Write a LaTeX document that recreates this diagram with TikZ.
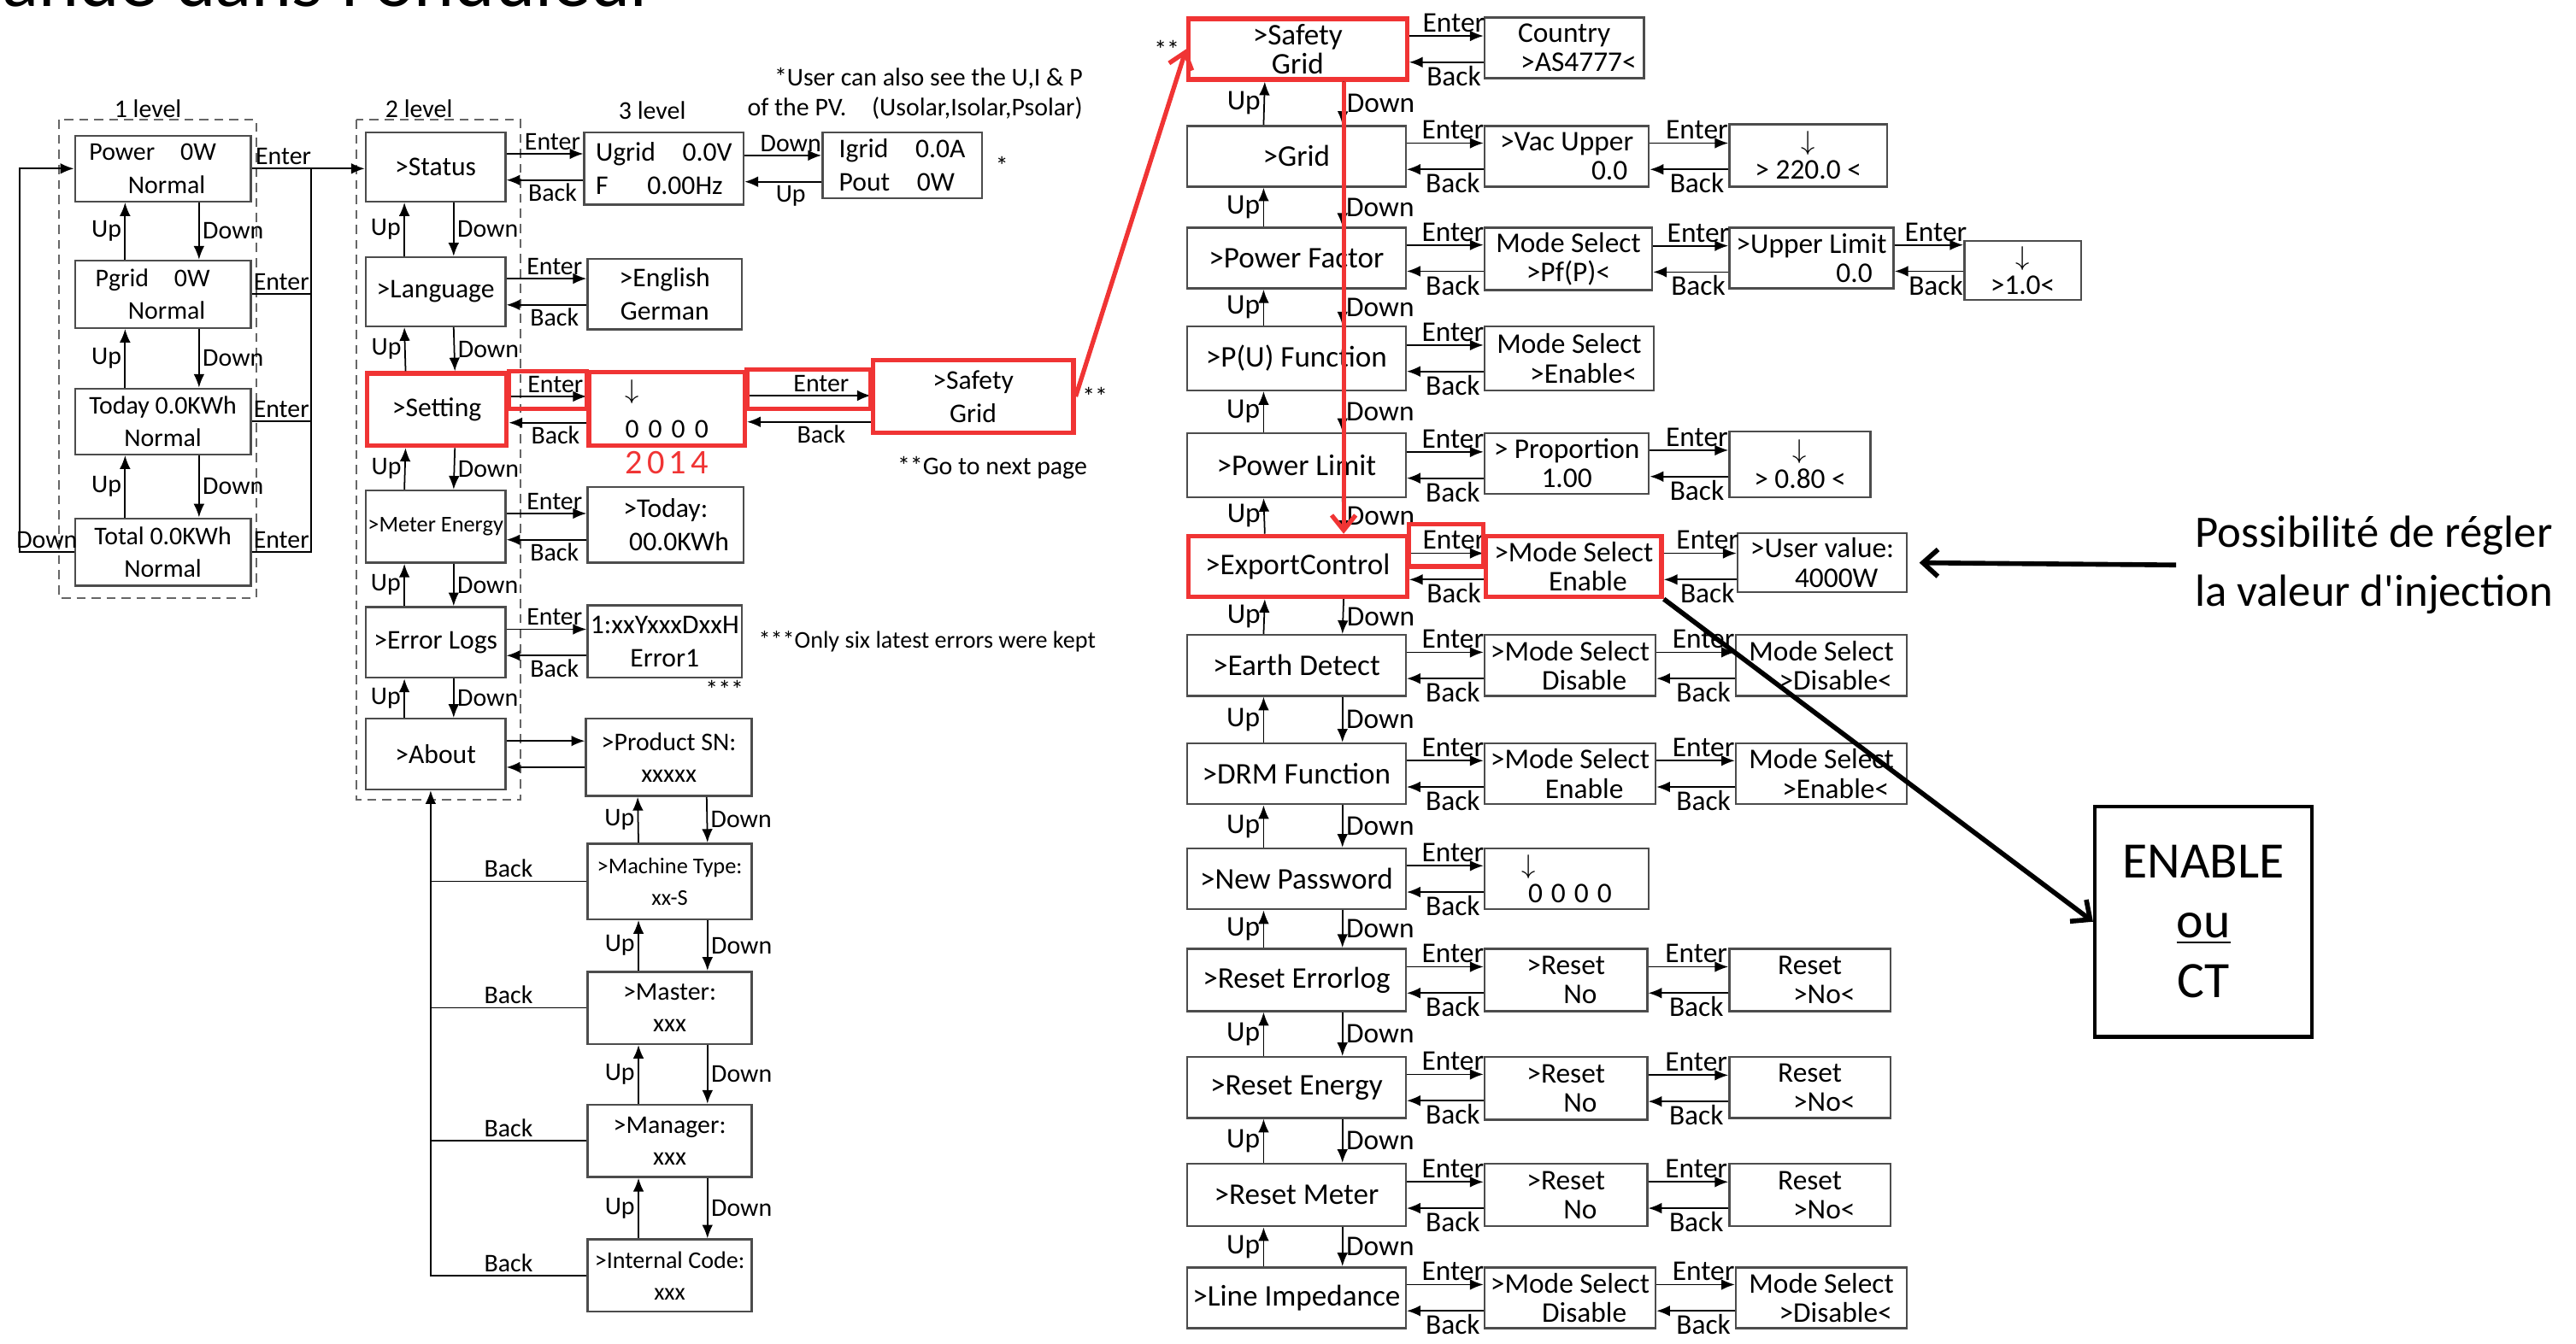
\documentclass[tikz,border=0pt]{standalone}
\usepackage{fontspec}
\setmainfont{Carlito}
\newfontfamily\titlefont{Lato}
\usetikzlibrary{calc,positioning,arrows.meta}
\definecolor{mkred}{RGB}{240,52,52}
\newcommand{\pxu}{0.019222cm}
\tikzset{
    >={Latex[length=4.5pt,width=3.6pt]}, % filled heads, as on the inverter screen
    }
% Enter / Back pair between a box and the box on its right
\newcommand{\enterback}[4]{%
  \path ($(#1.east)+(0,-8)$) coordinate (eb1) ($(#1.east)+(0,8)$) coordinate (eb2);
  \draw[link] (eb1) -- node[lbl,above,pos=0.6] {#3} (eb1 -| #2.west);
  \draw[link] (eb2 -| #2.west) -- node[lbl,below,pos=0.4] {#4} (eb2);
}
% Up / Down pair between a box and the box below it
\newcommand{\updown}[4]{%
  \draw[link] ($(#2.north)+(#3,0)$) -- node[lbl,left] {Up} ($(#1.south)+(#3,0)$);
  \draw[link] ($(#1.south)+(#4,0)$) -- node[lbl,right] {Down} ($(#2.north)+(#4,0)$);
}

\begin{document}
\begin{tikzpicture}[x=0.019222cm, y=-0.019222cm,
scr/.style={draw=black!70, line width=0.7pt, anchor=north west, align=center, inner sep=0.5pt, font=\fontsize{9}{11}\selectfont},
sz/.style 2 args={minimum width=#1*\pxu, minimum height=#2*\pxu},
rcol/.style={font=\fontsize{10}{9.8}\selectfont},
subcol/.style={font=\fontsize{9.5}{9.8}\selectfont},
mcol/.style={font=\fontsize{8.5}{10.5}\selectfont},
redbox/.style={draw=mkred, line width=1.5pt},
redline/.style={draw=mkred, line width=1.5pt, -{Straight Barb[length=5pt,width=8pt]}},
wire/.style={line width=0.5pt},
link/.style={wire, ->},
lbl/.style={inner sep=1pt, font=\fontsize{8.5}{10}\selectfont},
lvframe/.style={draw=black!60, line width=0.6pt, dash pattern=on 3pt off 2pt},
infotext/.style={align=center, font=\fontsize{15}{19.5}\selectfont},
infoarrow/.style={line width=1.6pt, -{Straight Barb[length=5pt,width=9pt]}},
]
\useasboundingbox (0,0) rectangle (1568,818);

% title, cut by the page edge
\node[font=\titlefont\fontsize{24}{24}\selectfont, anchor=base east, inner sep=0pt] (ttl) at (400,4) {commande dans l\textquotesingle onduleur};

% level 1
\draw[lvframe] (36,73) rectangle (156,364);
\node[lbl] (lv1) at (90,66) {1 level};
\node[scr, sz={107}{40}, font=\fontsize{8.5}{10.9}\selectfont] (pow) at (45,82) {Power\quad 0W\hspace*{0.8em}\\\hspace*{0.3em}Normal};
\node[scr, sz={107}{41}, font=\fontsize{8.5}{10.9}\selectfont] (pgr) at (45,158) {Pgrid\quad 0W\hspace*{0.8em}\\\hspace*{0.3em}Normal};
\node[scr, sz={107}{40}, font=\fontsize{8.5}{10.9}\selectfont] (tod) at (45,236) {Today 0.0KWh\\Normal};
\node[scr, sz={107}{41}, font=\fontsize{8.5}{10.9}\selectfont] (tot) at (45,315) {Total 0.0KWh\\Normal};

% level 2
\draw[lvframe] (217,73) rectangle (317,487);
\node[lbl] (lv2) at (255,66) {2 level};
\node[scr, sz={85}{42}] (sta) at (222,80) {>Status};
\node[scr, sz={85}{42}] (lan) at (222,156) {>Language};
\node[scr, sz={85}{44}, redbox] (set) at (222,226) {>Setting};
\node[scr, sz={85}{44}, font=\fontsize{7.5}{9}\selectfont] (met) at (222,298) {>Meter Energy};
\node[scr, sz={85}{43}] (err) at (222,369) {>Error Logs};
\node[scr, sz={85}{43}] (abo) at (222,437) {>About};

% level 3
\node[lbl] (lv3) at (397,67) {3 level};
\node[scr, sz={97}{44}, align=left] (ugr) at (355,80) {Ugrid\quad 0.0V\\F\quad\ \ 0.00Hz};
\node[scr, sz={97}{40}, align=left] (igr) at (500,80) {Igrid\quad 0.0A\\Pout\quad 0W};
\node[scr, sz={94}{43}] (eng) at (357,157) {>English\\German};
\node[scr, sz={95}{45}, redbox, align=left] (pwd) at (357,225) {$\downarrow$\\[2pt]0\hspace{0.35em}0\hspace{0.35em}0\hspace{0.35em}0};
\node[scr, sz={122}{44}, redbox] (sg1) at (530,218) {>Safety\\Grid};
\node[scr, sz={95}{46}] (tdy) at (357,296) {>Today:\\\quad 00.0KWh};
\node[scr, sz={94}{44}] (elg) at (357,368) {1:xxYxxxDxxH\\Error1};
\node[scr, sz={101}{47}, mcol] (psn) at (356,437) {>Product SN:\\xxxxx};
\node[scr, sz={100}{46}, font=\fontsize{7.5}{10.5}\selectfont] (mty) at (357,513) {>Machine Type:\\xx-S};
\node[scr, sz={100}{44}, mcol] (mas) at (357,591) {>Master:\\xxx};
\node[scr, sz={100}{44}, mcol] (man) at (357,672) {>Manager:\\xxx};
\node[scr, sz={100}{44}, font=\fontsize{8}{10.5}\selectfont] (inc) at (357,754) {>Internal Code:\\xxx};

% notes of the left page
\node[lbl, align=right] (pvnote) at (557,57) {*User can also see the U,I \& P\\of the PV.\quad (Usolar,Isolar,Psolar)};
\node[lbl] (ast1) [right=3pt of igr] {*};
\node[lbl] (ast2) [right=1pt of sg1] {**};
\node[lbl] (gonext) at (604,285) {**Go to next page};
\node[text=mkred, inner sep=1pt, font=\fontsize{11.5}{11.5}\selectfont] (yr) [below=0pt of pwd] {2\hspace{1.5pt}0\hspace{1.5pt}1\hspace{1.5pt}4};
\node[lbl] (ast4) at (441,420) {***};
\node[lbl, font=\fontsize{8}{10}\selectfont] (errnote) [right=4pt of elg] {***Only six latest errors were kept};

% right page, main column
\node[scr, sz={133}{37}, rcol, redbox] (sg2) at (722,10) {>Safety\\Grid};
\node[scr, sz={133}{37}, rcol] (grd) at (722,76) {>Grid};
\node[scr, sz={133}{37}, rcol] (pfa) at (722,138) {>Power Factor};
\node[scr, sz={133}{39}, rcol] (puf) at (722,198) {>P(U) Function};
\node[scr, sz={133}{39}, rcol] (plm) at (722,263) {>Power Limit};
\node[scr, sz={133}{37}, rcol, redbox] (exp) at (722,325) {>ExportControl};
\node[scr, sz={133}{37}, rcol] (ear) at (722,386) {>Earth Detect};
\node[scr, sz={133}{37}, rcol] (drm) at (722,452) {>DRM Function};
\node[scr, sz={133}{37}, rcol] (npw) at (722,516) {>New Password};
\node[scr, sz={133}{38}, rcol] (rel) at (722,577) {>Reset Errorlog};
\node[scr, sz={133}{37}, rcol] (ren) at (722,643) {>Reset Energy};
\node[scr, sz={133}{38}, rcol] (rme) at (722,708) {>Reset Meter};
\node[scr, sz={133}{37}, rcol] (lim) at (722,771) {>Line Impedance};
\node[lbl] (ast3) [left=1pt of sg2] {**};

% right page, sub menus
\node[scr, sz={97}{37}, subcol] (cty) at (903,10) {Country\\\quad >AS4777<};
\node[scr, sz={100}{37}, subcol] (vac) at (903,76) {>Vac Upper\\\hspace*{3em}0.0};
\node[scr, sz={96}{38}, subcol] (vup) at (1052,75) {$\downarrow$\\> 220.0 <};
\node[scr, sz={102}{38}, subcol] (pfm) at (903,138) {Mode Select\\>Pf(P)<};
\node[scr, sz={100}{37}, subcol] (ulm) at (1052,138) {>Upper Limit\\\hspace*{3em}0.0};
\node[scr, sz={71}{36}, subcol] (pfv) at (1195,146) {$\downarrow$\\>1.0<};
\node[scr, sz={103}{39}, subcol] (pum) at (903,198) {Mode Select\\\quad >Enable<};
\node[scr, sz={100}{37}, subcol] (pro) at (903,263) {> Proportion\\1.00};
\node[scr, sz={86}{40}, subcol] (prv) at (1052,262) {$\downarrow$\\> 0.80 <};
\node[scr, sz={107}{37}, subcol, redbox] (exm) at (903,325) {>Mode Select\\\quad Enable};
\node[scr, sz={103}{36}, subcol] (usr) at (1057,324) {>User value:\\\quad 4000W};
\node[scr, sz={104}{37}, subcol] (eam) at (903,386) {>Mode Select\\\quad Disable};
\node[scr, sz={104}{37}, subcol] (eav) at (1056,386) {Mode Select\\\quad >Disable<};
\node[scr, sz={104}{37}, subcol] (dmm) at (903,452) {>Mode Select\\\quad Enable};
\node[scr, sz={104}{37}, subcol] (dmv) at (1056,452) {Mode Select\\\quad >Enable<};
\node[scr, sz={100}{37}, subcol, align=left] (npv) at (903,516) {$\downarrow$\\\ 0\hspace{0.3em}0\hspace{0.3em}0\hspace{0.3em}0};
\node[scr, sz={99}{38}, subcol] (rl1) at (903,577) {>Reset\\\quad No};
\node[scr, sz={98}{38}, subcol] (rl2) at (1052,577) {Reset\\\quad >No<};
\node[scr, sz={99}{38}, subcol] (rn1) at (903,643) {>Reset\\\quad No};
\node[scr, sz={98}{37}, subcol] (rn2) at (1052,643) {Reset\\\quad >No<};
\node[scr, sz={99}{38}, subcol] (rm1) at (903,708) {>Reset\\\quad No};
\node[scr, sz={98}{38}, subcol] (rm2) at (1052,708) {Reset\\\quad >No<};
\node[scr, sz={104}{37}, subcol] (li1) at (903,771) {>Mode Select\\\quad Disable};
\node[scr, sz={104}{37}, subcol] (li2) at (1056,771) {Mode Select\\\quad >Disable<};

% level 1 links
\foreach \a/\b in {pow/pgr,pgr/tod,tod/tot} {\updown{\a}{\b}{-23}{22}}
\coordinate (jn) at ($(pow.east)+(36,0)$);
\draw[link] (pow.east) -- node[lbl,above,pos=0.28] {Enter} (pow.east -| sta.west);
\foreach \b in {pgr,tod} {\draw[wire] (\b.east) -- node[lbl,above] {Enter} (\b.east -| jn);}
\draw[wire] (tot.east) -- node[lbl,above] {Enter} (tot.east -| jn) -- (jn);
\draw[link] (tot.west) -- node[lbl,above] {Down} ++(-33,0) |- (pow.west);

% level 2 and 3 links
\foreach \a/\b in {sta/lan,lan/set,set/met,met/err,err/abo} {\updown{\a}{\b}{-19}{11}}
\foreach \a/\b in {sta/ugr,lan/eng,set/pwd,pwd/sg1,met/tdy,err/elg} {\enterback{\a}{\b}{Enter}{Back}}
\enterback{ugr}{igr}{Down}{Up}
\enterback{abo}{psn}{}{}
\foreach \a/\b in {psn/mty,mty/mas,mas/man,man/inc} {\updown{\a}{\b}{-19}{23}}
\coordinate (bk) at ($(abo.south)+(-3,0)$);
\draw[link] (inc.west) -- node[lbl,above] {Back} (inc.west -| bk) -- (bk);
\foreach \b in {mty,mas,man} {\draw[wire] (\b.west) -- node[lbl,above] {Back} (\b.west -| bk);}

% right page links
\begin{scope}[lbl/.append style={font=\fontsize{9.5}{10}\selectfont}]
\foreach \a/\b in {sg2/grd,grd/pfa,pfa/puf,puf/plm,plm/exp,exp/ear,ear/drm,drm/npw,npw/rel,rel/ren,ren/rme,rme/lim} {\updown{\a}{\b}{-20}{28}}
\foreach \a/\b in {sg2/cty,grd/vac,vac/vup,pfa/pfm,pfm/ulm,ulm/pfv,puf/pum,plm/pro,pro/prv,exp/exm,exm/usr,ear/eam,eam/eav,drm/dmm,dmm/dmv,npw/npv,rel/rl1,rl1/rl2,ren/rn1,rn1/rn2,rme/rm1,rm1/rm2,lim/li1,li1/li2} {\enterback{\a}{\b}{Enter}{Back}}
\end{scope}

% red marks
\draw[redbox] (set.north east) rectangle (pwd.west);
\draw[redbox] (pwd.north east) rectangle (pwd.east -| sg1.west);
\draw[redbox] ($(exp.north east)+(0,-6)$) rectangle (exm.west);
\draw[redline] (sg1.east) -- (sg2.west);
\draw[redline] ($(sg2.south)+(28,0)$) -- ($(exp.north)+(28,0)$);

% remarks
\node[infotext] (inj) at (1445,344) {Possibilité de régler\\la valeur d\textquotesingle injection};
\draw[infoarrow] ($(inj.west)+(-5,0)$) -- ($(usr.east)+(7,0)$);
\node[scr, sz={132}{140}, draw=black, line width=1.3pt, font=\fontsize{17}{20}\selectfont] (ena) at (1274,490) {ENABLE\\\underline{ou}\\CT};
\draw[infoarrow] (exm.south east) -- (ena.west);
\end{tikzpicture}
\end{document}
